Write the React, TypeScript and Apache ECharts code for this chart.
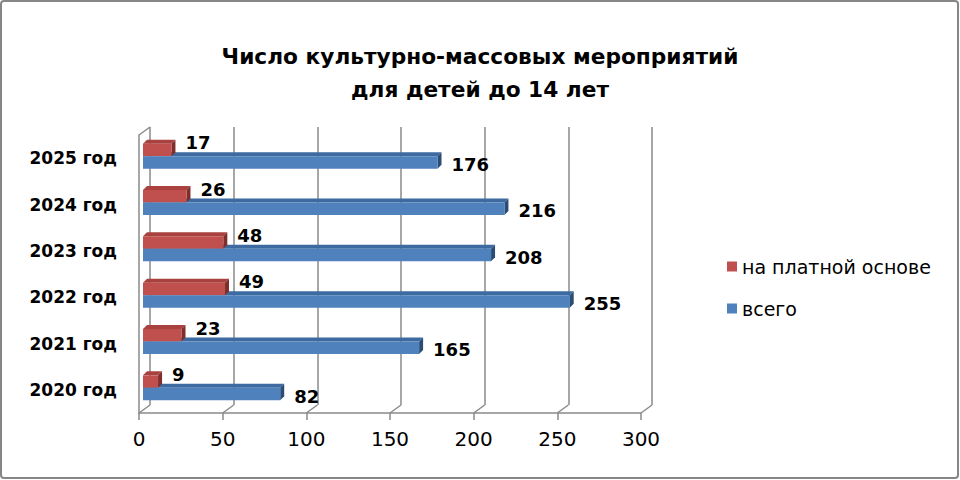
import React, { useEffect, useRef } from 'react';
import * as echarts from 'echarts';

const categories = ['2020 год', '2021 год', '2022 год', '2023 год', '2024 год', '2025 год'];
const paidValues = [9, 23, 49, 48, 26, 17];
const totalValues = [82, 165, 255, 208, 216, 176];
const xTicks = [0, 50, 100, 150, 200, 250, 300];
const seriesNames = ['на платной основе', 'всего'];
const titleLines = ['Число культурно-массовых мероприятий', 'для детей до 14 лет'];

const FONT = '"DejaVu Sans", "Noto Sans", sans-serif';
const BAR_W = 12.5;
const DEPTH = 4;
const WALL_DX = 11;
const WALL_DY = 8;
const GRID_COLOR = '#8a8a8a';
const RED = '#c0504d';
const BLUE = '#4f81bd';

function depthSeries(values: number[], upper: boolean, topColor: string, sideColor: string) {
  return {
    type: 'custom',
    xAxisIndex: 2,
    yAxisIndex: 2,
    silent: true,
    data: values.map((v, i) => [v, i]),
    encode: { x: 0, y: 1 },
    renderItem: (params: any, api: any) => {
      const v = api.value(0);
      const idx = api.value(1);
      const end = api.coord([v, idx]);
      const start = api.coord([0, idx]);
      const yc = end[1];
      const yTop = upper ? yc - BAR_W : yc;
      const yBot = yTop + BAR_W;
      const x0 = start[0];
      const x1 = end[0];
      return {
        type: 'group',
        children: [
          {
            type: 'polygon',
            shape: { points: [[x0, yTop], [x0 + DEPTH, yTop - DEPTH], [x1 + DEPTH, yTop - DEPTH], [x1, yTop]] },
            style: { fill: topColor },
          },
          {
            type: 'polygon',
            shape: { points: [[x1, yTop], [x1 + DEPTH, yTop - DEPTH], [x1 + DEPTH, yBot - DEPTH], [x1, yBot]] },
            style: { fill: sideColor },
          },
        ],
      };
    },
  };
}

export default function App() {
  const ref = useRef<HTMLDivElement>(null);
  useEffect(() => {
    if (!ref.current) return;
    const chart = echarts.init(ref.current, undefined, { renderer: 'svg' });
    const valueAxisBase = { type: 'value', min: 0, max: 300, interval: 50 };
    const option: any = {
      animation: false,
      backgroundColor: '#ffffff',
      textStyle: { fontFamily: FONT },
      title: [
        {
          text: titleLines[0],
          left: 'center',
          top: 40,
          textStyle: { fontFamily: FONT, fontSize: 21.7, fontWeight: 'bold', color: '#000' },
        },
        {
          text: titleLines[1],
          left: 'center',
          top: 73,
          textStyle: { fontFamily: FONT, fontSize: 21.7, fontWeight: 'bold', color: '#000' },
        },
      ],
      legend: {
        orient: 'vertical',
        left: 722,
        top: 252,
        itemWidth: 10,
        itemHeight: 10,
        itemGap: 23,
        icon: 'rect',
        data: seriesNames,
        textStyle: { fontFamily: FONT, fontSize: 19, color: '#000' },
      },
      graphic: [
        {
          type: 'rect',
          shape: { x: 1, y: 1, width: 957, height: 477, r: 3 },
          style: { fill: 'none', stroke: '#868686', lineWidth: 2 },
          silent: true,
        },
      ],
      grid: [
        { left: 139, top: 135, width: 502, height: 278 },
        { left: 150, top: 127, width: 502, height: 278 },
        { left: 143, top: 133, width: 502, height: 278 },
      ],
      xAxis: [
        {
          ...valueAxisBase,
          gridIndex: 0,
          axisLine: { show: true, lineStyle: { color: GRID_COLOR, width: 1.5 } },
          axisTick: { show: true, length: 7, lineStyle: { color: GRID_COLOR, width: 1.5 } },
          axisLabel: { fontFamily: FONT, fontSize: 20, color: '#000', margin: 16 },
          splitLine: { show: false },
        },
        {
          ...valueAxisBase,
          gridIndex: 1,
          axisLine: { show: false },
          axisTick: { show: false },
          axisLabel: { show: false },
          splitLine: { show: true, lineStyle: { color: GRID_COLOR, width: 1.5 } },
        },
        {
          ...valueAxisBase,
          gridIndex: 2,
          show: false,
        },
      ],
      yAxis: [
        {
          type: 'category',
          gridIndex: 0,
          data: categories,
          axisLine: { show: true, lineStyle: { color: GRID_COLOR, width: 1.5 } },
          axisTick: { show: false },
          axisLabel: { fontFamily: FONT, fontSize: 17, fontWeight: 'bold', color: '#000', margin: 22 },
        },
        {
          type: 'category',
          gridIndex: 1,
          data: categories,
          show: false,
        },
        {
          type: 'category',
          gridIndex: 2,
          data: categories,
          show: false,
        },
      ],
      series: [
        {
          type: 'custom',
          xAxisIndex: 0,
          yAxisIndex: 0,
          silent: true,
          data: xTicks.map((t) => [t]),
          encode: { x: 0 },
          renderItem: (params: any, api: any) => {
            const cs = params.coordSys;
            const t = api.value(0);
            const x = api.coord([t, 0])[0];
            const bottom = cs.y + cs.height;
            const children: any[] = [
              {
                type: 'line',
                shape: { x1: x, y1: bottom, x2: x + WALL_DX, y2: bottom - WALL_DY },
                style: { stroke: GRID_COLOR, lineWidth: 1.5 },
              },
            ];
            if (t === xTicks[0]) {
              children.push({
                type: 'line',
                shape: { x1: x, y1: cs.y, x2: x + WALL_DX, y2: cs.y - WALL_DY },
                style: { stroke: GRID_COLOR, lineWidth: 1.5 },
              });
            }
            return { type: 'group', children };
          },
        },
        depthSeries(totalValues, false, '#3d6aa0', '#2b4c74'),
        depthSeries(paidValues, true, '#a9423f', '#7f2e2c'),
        {
          name: seriesNames[0],
          type: 'bar',
          xAxisIndex: 2,
          yAxisIndex: 2,
          data: paidValues,
          barWidth: BAR_W,
          barGap: '0%',
          itemStyle: { color: RED },
          label: {
            show: true,
            position: 'right',
            distance: 14,
            offset: [0, -7],
            fontFamily: FONT,
            fontSize: 18,
            fontWeight: 'bold',
            color: '#000',
          },
        },
        {
          name: seriesNames[1],
          type: 'bar',
          xAxisIndex: 2,
          yAxisIndex: 2,
          data: totalValues,
          barWidth: BAR_W,
          barGap: '0%',
          itemStyle: { color: BLUE },
          label: {
            show: true,
            position: 'right',
            distance: 14,
            offset: [0, 2],
            fontFamily: FONT,
            fontSize: 18,
            fontWeight: 'bold',
            color: '#000',
          },
        },
      ],
    };
    chart.setOption(option);
    return () => chart.dispose();
  }, []);
  return (
    <div
      ref={ref}
      style={{ position: 'fixed', left: 0, top: 0, width: 960, height: 480, background: '#fff' }}
    />
  );
}
